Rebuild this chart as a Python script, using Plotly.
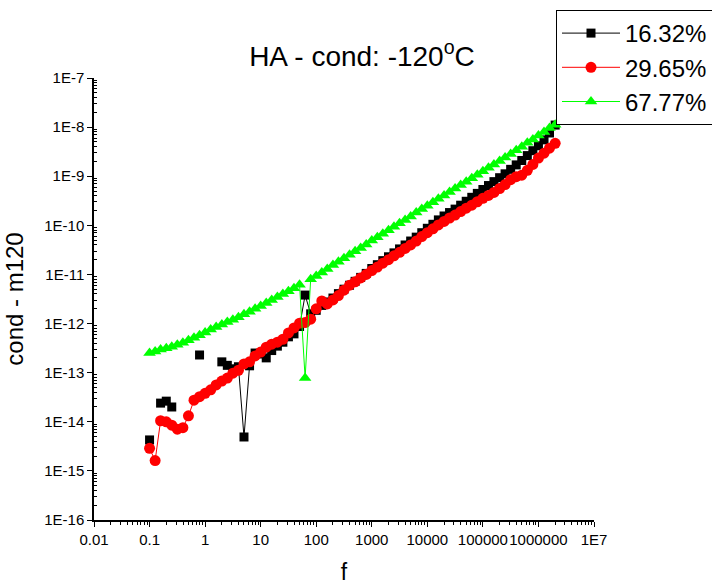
import plotly.graph_objects as go

# Frequency grid (Hz)
freq = [0.1, 0.126, 0.158, 0.2, 0.251, 0.316, 0.398, 0.501, 0.631, 0.794,
        1, 1.26, 1.58, 2.0, 2.51, 3.16, 3.98, 5.01, 6.31, 7.94,
        10, 12.6, 15.8, 20, 25.1, 31.6, 39.8, 50.1, 63.1, 79.4,
        100, 126, 158, 200, 251, 316, 398, 501, 631, 794,
        1000, 1260, 1580, 2000, 2510, 3160, 3980, 5010, 6310, 7940,
        1e4, 1.26e4, 1.58e4, 2e4, 2.51e4, 3.16e4, 3.98e4, 5.01e4, 6.31e4, 7.94e4,
        1e5, 1.26e5, 1.58e5, 2e5, 2.51e5, 3.16e5, 3.98e5, 5.01e5, 6.31e5, 7.94e5,
        1e6, 1.26e6, 1.58e6, 2e6]

cond_1632 = [4.27e-15, None, 2.40e-14, 2.63e-14, 2.0e-14, None, None, None, None, 2.29e-13,
             None, None, None, 1.66e-13, 1.41e-13, 1.20e-13, 1.32e-13, 4.90e-15, 1.38e-13, 2.51e-13,
             2.40e-13, 2.0e-13, 2.82e-13, 3.47e-13, 4.17e-13, 5.37e-13, 6.17e-13, 8.71e-13, 3.80e-12, 1.58e-12,
             1.86e-12, 2.34e-12, 2.75e-12, 3.31e-12, 4.07e-12, 5.01e-12, 6.03e-12, 7.24e-12, 8.71e-12, 1.05e-11,
             1.32e-11, 1.58e-11, 1.91e-11, 2.29e-11, 2.75e-11, 3.31e-11, 3.98e-11, 4.79e-11, 5.75e-11, 7.08e-11,
             8.71e-11, 1.05e-10, 1.29e-10, 1.55e-10, 1.82e-10, 2.14e-10, 2.57e-10, 3.09e-10, 3.72e-10, 4.47e-10,
             5.37e-10, 6.46e-10, 7.76e-10, 9.33e-10, 1.12e-9, 1.38e-9, 1.70e-9, 2.09e-9, 2.63e-9, 3.31e-9,
             4.17e-9, 5.50e-9, 7.59e-9, 1.10e-8]

cond_2965 = [2.88e-15, 1.62e-15, 1.05e-14, 1.0e-14, 8.51e-15, 7.08e-15, 7.59e-15, 1.32e-14, 2.75e-14, 3.24e-14,
             3.80e-14, 4.47e-14, 5.62e-14, 6.76e-14, 7.76e-14, 9.77e-14, 1.12e-13, 1.51e-13, 1.66e-13, 2.19e-13,
             2.63e-13, 3.31e-13, 3.80e-13, 4.17e-13, 4.79e-13, 6.46e-13, 8.13e-13, 1.02e-12, 1.05e-12, 1.23e-12,
             2.0e-12, 2.88e-12, 2.51e-12, 3.02e-12, 3.72e-12, 4.79e-12, 6.03e-12, 7.08e-12, 8.51e-12, 1.0e-11,
             1.20e-11, 1.41e-11, 1.70e-11, 2.0e-11, 2.40e-11, 2.82e-11, 3.39e-11, 3.98e-11, 4.79e-11, 5.89e-11,
             7.08e-11, 8.51e-11, 1.02e-10, 1.20e-10, 1.41e-10, 1.62e-10, 1.91e-10, 2.24e-10, 2.57e-10, 3.02e-10,
             3.55e-10, 4.07e-10, 4.68e-10, 5.62e-10, 6.76e-10, 8.51e-10, 9.77e-10, 1.05e-9, 1.32e-9, 1.74e-9,
             2.34e-9, 2.95e-9, 3.72e-9, 4.68e-9]

cond_6777 = [2.5e-13, 2.7e-13, 2.95e-13, 3.16e-13, 3.39e-13, 3.72e-13, 4.07e-13, 4.57e-13, 5.13e-13, 5.75e-13,
             6.61e-13, 7.59e-13, 8.51e-13, 9.55e-13, 1.07e-12, 1.20e-12, 1.35e-12, 1.55e-12, 1.74e-12, 2.0e-12,
             2.29e-12, 2.63e-12, 3.02e-12, 3.47e-12, 3.98e-12, 4.57e-12, 5.25e-12, 6.17e-12, 7.76e-14, 7.94e-12,
             9.33e-12, 1.10e-11, 1.29e-11, 1.55e-11, 1.82e-11, 2.14e-11, 2.51e-11, 2.95e-11, 3.47e-11, 4.07e-11,
             4.90e-11, 5.75e-11, 6.76e-11, 7.94e-11, 9.33e-11, 1.10e-10, 1.29e-10, 1.51e-10, 1.82e-10, 2.14e-10,
             2.51e-10, 2.95e-10, 3.47e-10, 4.07e-10, 4.79e-10, 5.62e-10, 6.61e-10, 7.76e-10, 9.12e-10, 1.07e-9,
             1.26e-9, 1.48e-9, 1.74e-9, 2.04e-9, 2.40e-9, 2.82e-9, 3.39e-9, 3.98e-9, 4.79e-9, 5.62e-9,
             6.76e-9, 7.94e-9, 9.55e-9, 1.12e-8]

series_names = ["16.32%", "29.65%", "67.77%"]

x_tickvals = [0.01, 0.1, 1, 10, 100, 1000, 1e4, 1e5, 1e6, 1e7]
x_ticktext = ["0.01", "0.1", "1", "10", "100", "1000", "10000", "100000", "1000000", "1E7"]
y_tickvals = [1e-16, 1e-15, 1e-14, 1e-13, 1e-12, 1e-11, 1e-10, 1e-9, 1e-8, 1e-7]
y_ticktext = ["1E-16", "1E-15", "1E-14", "1E-13", "1E-12", "1E-11", "1E-10", "1E-9", "1E-8", "1E-7"]

FONT = "Liberation Sans, Arial, sans-serif"

fig = go.Figure()
fig.add_trace(go.Scatter(x=freq, y=cond_1632, name=series_names[0], mode="lines+markers",
                         line=dict(color="black", width=1),
                         marker=dict(symbol="square", size=9, color="black")))
fig.add_trace(go.Scatter(x=freq, y=cond_2965, name=series_names[1], mode="lines+markers",
                         line=dict(color="#ff0000", width=1),
                         marker=dict(symbol="circle", size=11, color="#ff0000")))
fig.add_trace(go.Scatter(x=freq, y=cond_6777, name=series_names[2], mode="lines+markers",
                         line=dict(color="#00ff00", width=1),
                         marker=dict(symbol="triangle-up", size=11, color="#00ff00")))

minor_x = [m * 10 ** e for e in range(-2, 7) for m in range(2, 10)]
minor_y = [m * 10.0 ** e for e in range(-16, -7) for m in range(2, 10)]

fig.update_layout(
    width=712, height=585,
    margin=dict(l=94, r=118, t=78, b=65, autoexpand=False),
    paper_bgcolor="white", plot_bgcolor="white",
    font=dict(family=FONT, color="black"),
    title=dict(text="HA - cond: -120<sup>o</sup>C", font=dict(size=28, family=FONT, color="black"),
               x=362 / 712, xref="container", xanchor="center",
               y=1 - 56 / 585, yref="container", yanchor="middle"),
    showlegend=True,
    legend=dict(x=(556 - 94) / 500, y=(520 - 10) / 442, xanchor="left", yanchor="top",
                bordercolor="black", borderwidth=1, bgcolor="white",
                font=dict(size=24, family=FONT, color="black"),
                tracegroupgap=0, itemwidth=58),
)
fig.update_xaxes(type="log", range=[-2, 7], showline=True, linecolor="black", linewidth=1.5,
                 mirror=False, showgrid=False, zeroline=False,
                 tickmode="array", tickvals=x_tickvals, ticktext=x_ticktext, tickangle=0,
                 ticks="outside", ticklen=5, tickwidth=1.2, tickcolor="black",
                 tickfont=dict(size=15, family=FONT, color="black"),
                 minor=dict(tickmode="array", tickvals=minor_x, ticks="outside", ticklen=3,
                            tickwidth=1, tickcolor="black", showgrid=False),
                 title=dict(text="f", font=dict(size=23, family=FONT, color="black"), standoff=18))
fig.update_yaxes(type="log", range=[-16, -7], showline=True, linecolor="black", linewidth=1.5,
                 mirror=False, showgrid=False, zeroline=False,
                 tickmode="array", tickvals=y_tickvals, ticktext=y_ticktext,
                 ticks="outside", ticklen=5, tickwidth=1.2, tickcolor="black",
                 tickfont=dict(size=15, family=FONT, color="black"),
                 minor=dict(tickmode="array", tickvals=minor_y, ticks="inside", ticklen=3,
                            tickwidth=1, tickcolor="black", showgrid=False),
                 title=dict(text="cond - m120", font=dict(size=24, family=FONT, color="black"), standoff=14))

fig.write_html("out.html")
